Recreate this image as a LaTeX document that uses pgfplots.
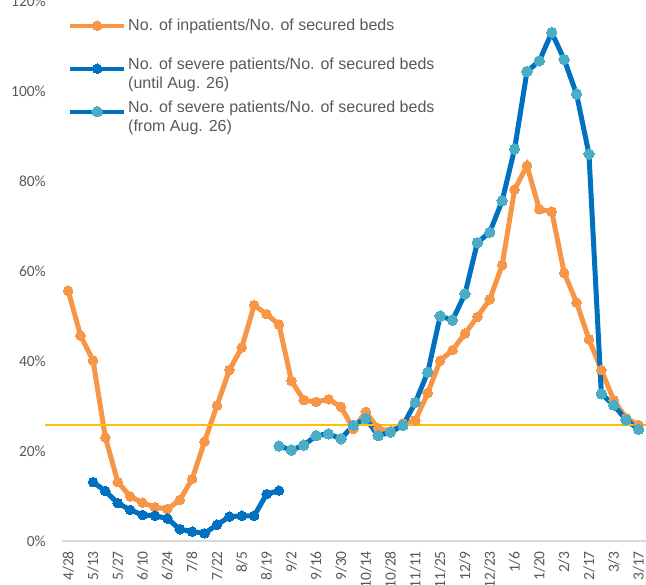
\documentclass[border=0pt]{standalone}
\usepackage{pgfplots}
\pgfplotsset{compat=1.18}
\usepackage{pgfplotstable}
\usepackage{fontspec}
\setmainfont{Liberation Sans}
\newfontfamily\tickfont{Carlito}
\usetikzlibrary{calc}
\definecolor{inpat}{RGB}{247,150,70}
\definecolor{sevblue}{RGB}{0,112,192}
\definecolor{sevlight}{RGB}{75,172,198}
\definecolor{capline}{RGB}{255,192,0}
\definecolor{txtgray}{RGB}{89,89,89}

% weekly ratios in %, index 0 = 4/28
\pgfplotstableread{
idx val
0 55.6
1 45.6
2 40.1
3 23.0
4 13.1
5 9.9
6 8.5
7 7.5
8 7.1
9 9.1
10 13.8
11 22.1
12 30.1
13 38.0
14 43.0
15 52.4
16 50.4
17 48.1
18 35.6
19 31.3
20 30.9
21 31.5
22 29.8
23 24.9
24 28.7
25 25.0
26 24.4
27 26.1
28 26.8
29 32.9
30 40.1
31 42.4
32 46.1
33 49.8
34 53.7
35 61.3
36 78.1
37 83.4
38 73.7
39 73.2
40 59.6
41 53.0
42 44.8
43 38.0
44 31.3
45 27.3
46 25.8
}\inpatients

\pgfplotstableread{
idx val
2 13.1
3 11.1
4 8.4
5 6.9
6 5.8
7 5.6
8 5.0
9 2.6
10 2.1
11 1.7
12 3.6
13 5.4
14 5.6
15 5.6
16 10.4
17 11.2
}\severeold

\pgfplotstableread{
idx val
17 21.1
18 20.2
19 21.3
20 23.4
21 23.8
22 22.7
23 25.7
24 27.2
25 23.4
26 24.2
27 25.7
28 30.8
29 37.5
30 50.0
31 49.1
32 54.9
33 66.3
34 68.6
35 75.6
36 87.1
37 104.3
38 106.7
39 113.0
40 107.0
41 99.3
42 86.0
43 32.7
44 30.2
45 26.9
46 24.8
}\severenew

\begin{document}
\begin{tikzpicture}
\begin{axis}[
  name=ax,
  scale only axis,
  width=584pt, height=540pt,
  xmin=-0.5, xmax=46.6, ymin=0, ymax=120,
  clip=false,
  axis lines*=left,
  x axis line style={draw=black!15, line width=1.3pt, -},
  y axis line style={draw=none},
  major tick length=0pt,
  xtick={0,2,...,46},
  xticklabels={4/28,5/13,5/27,6/10,6/24,7/8,7/22,8/5,8/19,9/2,9/16,9/30,10/14,10/28,11/11,11/25,12/9,12/23,1/6,1/20,2/3,2/17,3/3,3/17},
  ytick={0,20,...,120},
  yticklabels={0\%,20\%,40\%,60\%,80\%,100\%,120\%},
  xticklabel style={rotate=90, anchor=east, inner sep=0pt,
    font=\tickfont\fontsize{15.5}{17}\selectfont, text=txtgray},
  yticklabel style={anchor=east, inner sep=0pt,
    font=\tickfont\fontsize{15.5}{17}\selectfont, text=txtgray},
  xticklabel shift=10pt,
  yticklabel shift=16pt,
  legend cell align=left,
  legend image code/.code={
    \draw[mark repeat=2,mark phase=2,#1,line width=4pt]
      plot coordinates {(0pt,0pt) (27pt,0pt) (54pt,0pt)};},
  legend style={at={(rel axis cs:0,1)}, anchor=north west,
    xshift=6pt, yshift=-9pt, draw=none, fill=none, inner sep=0pt,
    row sep=12pt,
    nodes={inner xsep=2pt, inner ysep=0pt, minimum height=31pt,
      font=\fontsize{16}{19}\selectfont, text=txtgray}},
]
\addplot[inpat, line width=5pt, mark=*, mark size=4.8pt,
  mark options={fill=inpat, draw=inpat, line width=0pt}]
  table[x=idx, y=val] {\inpatients};
\addlegendentry{No. of inpatients/No. of secured beds}

\addplot[sevblue, line width=5pt, mark=*, mark size=4.8pt,
  mark options={fill=sevblue, draw=sevblue, line width=0pt}]
  table[x=idx, y=val] {\severeold};
\addlegendentry{\begin{tabular}{@{}l@{}}No. of severe patients/No. of secured beds\\(until Aug. 26)\end{tabular}}

\addplot[sevblue, line width=5pt, mark=*, mark size=5.2pt,
  mark options={fill=sevlight, draw=sevlight, line width=0pt}]
  table[x=idx, y=val] {\severenew};
\addlegendentry{\begin{tabular}{@{}l@{}}No. of severe patients/No. of secured beds\\(from Aug. 26)\end{tabular}}

% target line
\addplot[capline, line width=2pt, forget plot] coordinates {(-1.9,25.8) (46.6,25.8)};
\end{axis}
\pgfresetboundingbox
\path[use as bounding box] ($(ax.south west)+(-62pt,-44pt)$) rectangle ($(ax.north east)+(0pt,1pt)$);
\end{tikzpicture}
\end{document}
